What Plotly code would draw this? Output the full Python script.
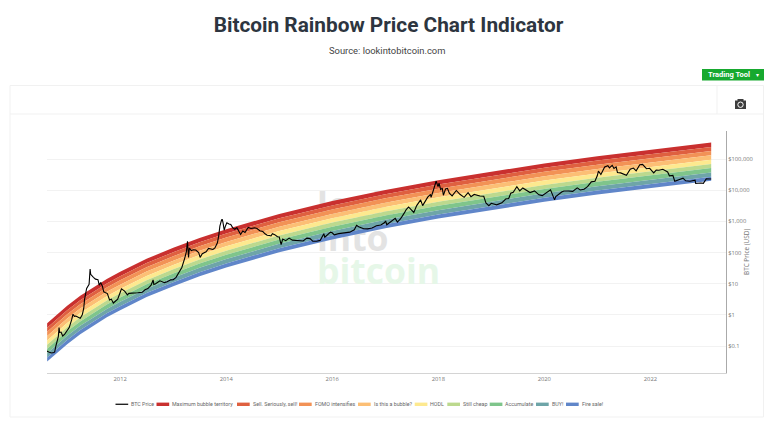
import plotly.graph_objects as go

W, H = 768, 437

TITLE = "Bitcoin Rainbow Price Chart Indicator"
SOURCE = "Source: lookintobitcoin.com"
BTC_NAME = "BTC Price"
Y_TITLE = "BTC Price (USD)"

band_dates = ["2010-08-16","2010-11-01","2011-01-01","2011-04-01","2011-07-01","2011-10-01","2012-01-01","2012-07-01",
              "2013-01-01","2013-07-01","2014-01-01","2014-07-01","2015-01-01","2016-01-01","2017-01-01","2018-01-01",
              "2019-01-01","2020-01-01","2021-01-01","2022-01-01","2023-01-01","2023-02-24"]

# log10(USD) of each band edge (top edge of the top band first)
edge_0 = [-0.27,0.06,0.29,0.61,0.89,1.15,1.38,1.80,2.15,2.47,2.75,3.00,3.24,3.65,4.01,4.32,4.60,4.86,5.09,5.30,5.50,5.53]
edge_1 = [-0.41,-0.08,0.15,0.47,0.75,1.01,1.24,1.66,2.01,2.33,2.61,2.86,3.10,3.51,3.87,4.18,4.46,4.72,4.95,5.16,5.36,5.39]
edge_2 = [-0.54,-0.21,0.02,0.34,0.62,0.88,1.11,1.53,1.88,2.20,2.48,2.73,2.97,3.38,3.74,4.05,4.33,4.59,4.82,5.03,5.23,5.26]
edge_3 = [-0.68,-0.35,-0.12,0.20,0.48,0.74,0.97,1.39,1.74,2.06,2.34,2.59,2.83,3.24,3.60,3.91,4.19,4.45,4.68,4.89,5.09,5.12]
edge_4 = [-0.82,-0.49,-0.26,0.06,0.34,0.60,0.83,1.25,1.60,1.92,2.20,2.45,2.69,3.10,3.46,3.77,4.05,4.31,4.54,4.75,4.95,4.98]
edge_5 = [-0.96,-0.63,-0.40,-0.08,0.20,0.46,0.69,1.11,1.46,1.78,2.06,2.31,2.55,2.96,3.32,3.63,3.91,4.17,4.40,4.61,4.81,4.84]
edge_6 = [-1.09,-0.76,-0.53,-0.21,0.07,0.33,0.56,0.98,1.33,1.65,1.93,2.18,2.42,2.83,3.19,3.50,3.78,4.04,4.27,4.48,4.68,4.71]
edge_7 = [-1.23,-0.90,-0.67,-0.35,-0.07,0.19,0.42,0.84,1.19,1.51,1.79,2.04,2.28,2.69,3.05,3.36,3.64,3.90,4.13,4.34,4.54,4.57]
edge_8 = [-1.37,-1.04,-0.81,-0.49,-0.21,0.05,0.28,0.70,1.05,1.37,1.65,1.90,2.14,2.55,2.91,3.22,3.50,3.76,3.99,4.20,4.40,4.43]
edge_9 = [-1.50,-1.17,-0.94,-0.62,-0.34,-0.08,0.15,0.57,0.92,1.24,1.52,1.77,2.01,2.42,2.78,3.09,3.37,3.63,3.86,4.07,4.27,4.30]

band_names = ["Maximum bubble territory","Sell. Seriously, sell!","FOMO intensifies","Is this a bubble?","HODL",
              "Still cheap","Accumulate","BUY!","Fire sale!"]
band_colors = ["#c9302f","#df6040","#f29256","#fcbf75","#fde98f","#bcd98e","#7fc58b","#6ea5a8","#6086c9"]

btc = [
("2010-08-16",.07),("2010-08-20",.066),("2010-09-01",.063),("2010-09-15",.06),("2010-10-01",.062),("2010-10-07",.065),
("2010-10-15",.1),("2010-10-25",.15),("2010-11-01",.2),("2010-11-06",.39),("2010-11-10",.27),("2010-11-20",.28),
("2010-12-01",.21),("2010-12-15",.24),("2011-01-01",.3),("2011-01-15",.39),("2011-02-01",.7),("2011-02-10",1.05),
("2011-02-20",.9),("2011-03-01",.92),("2011-03-15",.85),("2011-04-01",.78),("2011-04-15",1.0),("2011-04-25",1.6),
("2011-05-01",3.2),("2011-05-15",7),("2011-06-01",9.5),("2011-06-05",18),("2011-06-08",29.6),("2011-06-12",20),
("2011-06-20",17.5),("2011-07-01",16),("2011-07-15",14),("2011-08-01",13.5),("2011-08-10",9),("2011-08-20",11),
("2011-09-01",8.2),("2011-09-10",5.5),("2011-09-20",5.2),("2011-10-05",4.8),("2011-10-20",3),("2011-11-01",3.2),
("2011-11-15",2.4),("2011-12-01",2.9),("2011-12-15",3.2),("2012-01-01",5.2),("2012-01-10",6.8),("2012-02-01",5.8),
("2012-02-20",4.4),("2012-03-01",4.9),("2012-04-01",4.9),("2012-05-01",5.1),("2012-06-01",5.3),("2012-06-20",6.4),
("2012-07-10",7),("2012-08-01",9),("2012-08-15",13.2),("2012-08-20",9.5),("2012-09-01",10),("2012-10-01",12.4),
("2012-11-01",10.8),("2012-11-20",11.5),("2012-12-15",13.3),("2013-01-01",13.4),("2013-01-20",16),("2013-02-10",24),
("2013-03-01",33),("2013-03-20",64),("2013-04-01",104),("2013-04-09",230),("2013-04-12",90),("2013-04-16",70),
("2013-04-22",140),("2013-05-05",115),("2013-05-20",122),("2013-06-05",120),("2013-06-25",100),("2013-07-05",70),
("2013-07-20",92),("2013-08-15",105),("2013-09-01",135),("2013-10-01",125),("2013-10-15",140),("2013-11-01",205),
("2013-11-10",340),("2013-11-18",700),("2013-11-30",1120),("2013-12-05",1130),("2013-12-10",900),("2013-12-18",520),
("2013-12-25",680),("2014-01-05",900),("2014-01-20",820),("2014-02-01",800),("2014-02-15",620),("2014-03-01",560),
("2014-03-15",630),("2014-04-10",380),("2014-04-25",490),("2014-05-10",440),("2014-06-01",640),("2014-06-20",590),
("2014-07-15",620),("2014-08-01",590),("2014-08-20",500),("2014-09-10",470),("2014-09-25",400),("2014-10-10",360),
("2014-10-25",350),("2014-11-05",340),("2014-11-15",400),("2014-12-01",375),("2014-12-20",320),("2015-01-01",315),
("2015-01-14",180),("2015-01-25",270),("2015-02-15",240),("2015-03-10",290),("2015-04-01",250),("2015-05-15",237),
("2015-06-15",235),("2015-07-10",290),("2015-08-01",280),("2015-08-20",230),("2015-09-15",230),("2015-10-10",245),
("2015-11-04",400),("2015-11-11",310),("2015-12-01",365),("2015-12-20",450),("2016-01-01",430),("2016-01-15",370),
("2016-02-15",405),("2016-03-15",415),("2016-05-01",450),("2016-06-01",535),("2016-06-17",750),("2016-07-01",670),
("2016-08-05",580),("2016-09-01",575),("2016-10-01",615),("2016-11-01",720),("2016-12-01",760),("2016-12-25",900),
("2017-01-03",1030),("2017-01-11",780),("2017-02-15",1020),("2017-03-10",1250),("2017-03-25",950),("2017-04-15",1190),
("2017-05-10",1800),("2017-05-25",2400),("2017-06-10",2900),("2017-07-16",1930),("2017-08-05",3200),("2017-09-01",4900),
("2017-09-15",3200),("2017-10-01",4400),("2017-10-20",6000),("2017-11-08",7400),("2017-11-12",5900),("2017-11-28",10000),
("2017-12-08",16000),("2017-12-17",19500),("2017-12-30",13000),("2018-01-06",17000),("2018-01-17",10500),("2018-01-28",11700),
("2018-02-05",6900),("2018-02-20",11000),("2018-03-05",11500),("2018-03-18",8000),("2018-04-06",6600),("2018-05-05",9800),
("2018-05-30",7400),("2018-06-28",5900),("2018-07-25",8300),("2018-08-14",6200),("2018-09-05",7300),("2018-10-15",6500),
("2018-11-10",6400),("2018-11-25",3900),("2018-12-15",3200),("2019-01-01",3800),("2019-02-07",3400),("2019-03-15",3950),
("2019-04-10",5200),("2019-05-01",5400),("2019-05-15",8000),("2019-06-01",8600),("2019-06-26",12900),("2019-07-16",9500),
("2019-08-06",11800),("2019-09-01",9600),("2019-09-25",8400),("2019-10-26",9500),("2019-11-25",7100),("2019-12-18",6700),
("2020-01-20",8700),("2020-02-13",10300),("2020-03-12",4900),("2020-03-20",6200),("2020-04-30",8700),("2020-05-15",9400),
("2020-06-15",9400),("2020-07-15",9200),("2020-08-15",11900),("2020-09-05",10200),("2020-10-01",10700),("2020-10-25",13000),
("2020-11-20",18500),("2020-12-01",19000),("2020-12-15",19300),("2020-12-31",29000),("2021-01-08",41000),("2021-01-25",32000),
("2021-02-20",56000),("2021-03-14",61000),("2021-03-25",52000),("2021-04-13",63000),("2021-04-25",50000),("2021-05-10",56000),
("2021-05-19",37000),("2021-06-10",36000),("2021-07-20",30000),("2021-08-15",47000),("2021-09-06",51500),("2021-09-25",42000),
("2021-10-20",66000),("2021-11-08",67500),("2021-12-05",49000),("2021-12-27",50500),("2022-01-24",36000),("2022-02-10",44000),
("2022-03-01",43500),("2022-03-28",47000),("2022-04-30",38500),("2022-05-12",29000),("2022-06-05",30000),("2022-06-18",19500),
("2022-07-10",21000),("2022-08-14",24300),("2022-09-01",20000),("2022-10-01",19400),("2022-11-05",21000),("2022-11-09",16500),
("2022-12-15",17000),("2023-01-01",16600),("2023-01-21",23000),("2023-02-05",23000),("2023-02-24",22800),
]
btc_dates = [d for d, _ in btc]
btc_prices = [p for _, p in btc]

y_tickvals = [0.1, 1, 10, 100, 1000, 10000, 100000]
y_ticktext = ["$0.1", "$1", "$10", "$100", "$1,000", "$10,000", "$100,000"]

watermark_words = ["look", "into", "bitcoin"]
watermark_y = [2500, 216, 19]
watermark_colors = ["#e3e3e3", "#e3e3e3", "#e6f7e8"]

def px(x): return x / W
def py(y): return 1 - y / H

edges = [edge_0, edge_1, edge_2, edge_3, edge_4, edge_5, edge_6, edge_7, edge_8, edge_9]

fig = go.Figure()
fig.add_trace(go.Scatter(x=["2015-09-18"] * 3, y=watermark_y, mode="text", text=watermark_words,
                         textposition="middle right", showlegend=False, hoverinfo="skip",
                         textfont=dict(family="Open Sans", size=35.5, color=watermark_colors, weight="bold")))
fig.add_trace(go.Scatter(x=band_dates, y=[10 ** v for v in edge_0], mode="lines", line=dict(width=0),
                         showlegend=False, hoverinfo="skip"))
for i, (name, color) in enumerate(zip(band_names, band_colors)):
    fig.add_trace(go.Scatter(x=band_dates, y=[10 ** v for v in edges[i + 1]], mode="lines", name=name,
                             line=dict(width=0, color=color), fill="tonexty", fillcolor=color, showlegend=False))
fig.add_trace(go.Scatter(x=btc_dates, y=btc_prices, mode="lines", name=BTC_NAME,
                         line=dict(color="#000000", width=1.1), showlegend=False))

shapes = [
    dict(type="rect", xref="paper", yref="paper", x0=px(10), x1=px(763.5), y0=py(85.5), y1=py(417),
         line=dict(color="#f1f1f1", width=1), fillcolor="rgba(0,0,0,0)", layer="below"),
    dict(type="line", xref="paper", yref="paper", x0=px(10), x1=px(763.5), y0=py(114), y1=py(114),
         line=dict(color="#f1f1f1", width=1), layer="below"),
    dict(type="line", xref="paper", yref="paper", x0=px(717), x1=px(717), y0=py(85.5), y1=py(114),
         line=dict(color="#f1f1f1", width=1), layer="below"),
    dict(type="rect", xref="paper", yref="paper", x0=px(702), x1=px(764), y0=py(69), y1=py(80.5),
         line=dict(width=0), fillcolor="#17a92f"),
    dict(type="rect", xref="paper", yref="paper", x0=px(735), x1=px(746), y0=py(100.5), y1=py(109),
         line=dict(width=0), fillcolor="#3d3d3d"),
    dict(type="rect", xref="paper", yref="paper", x0=px(737.5), x1=px(743.5), y0=py(99), y1=py(101),
         line=dict(width=0), fillcolor="#3d3d3d"),
    dict(type="circle", xref="paper", yref="paper", x0=px(737.8), x1=px(743.2), y0=py(102), y1=py(107.4),
         line=dict(color="#ffffff", width=1), fillcolor="#3d3d3d"),
]

legend_swatch_x = [115.5, 156.5, 237, 299, 358, 414.7, 447.3, 489.7, 536, 566]
legend_labels = [BTC_NAME] + band_names
legend_colors = ["#222222"] + band_colors
legend_y = 404.3

def note(text, x, y, family, size, color, xanchor="center", angle=0):
    return dict(text=text, x=px(x), y=py(y), xref="paper", yref="paper", showarrow=False,
                xanchor=xanchor, yanchor="middle", textangle=angle,
                font=dict(family=family, size=size, color=color))

annotations = [
    note(SOURCE, 387, 50.5, "Roboto", 9.4, "#444444"),
    note("<b>Trading Tool</b>", 729, 74.7, "Roboto", 7.5, "#ffffff"),
    note("▾", 757.5, 74.7, "DejaVu Sans", 6, "#ffffff"),
    note(Y_TITLE, 746, 252, "Open Sans", 6.4, "#777777", angle=-90),
]
for sx, label, color in zip(legend_swatch_x, legend_labels, legend_colors):
    h = 0.7 if label == BTC_NAME else 1.7
    shapes.append(dict(type="rect", xref="paper", yref="paper", x0=px(sx), x1=px(sx + 12.7),
                       y0=py(legend_y - h), y1=py(legend_y + h), line=dict(width=0), fillcolor=color))
    annotations.append(note(label, sx + 13.5, legend_y, "Roboto", 5.3, "#666666", xanchor="left"))

fig.update_layout(
    width=W, height=H, margin=dict(l=0, r=0, t=0, b=0),
    paper_bgcolor="#ffffff", plot_bgcolor="#ffffff", showlegend=False,
    title=dict(text="<b>" + TITLE + "</b>", x=388.5 / W, xanchor="center", y=py(25), yanchor="middle",
               font=dict(family="Roboto", size=20.8, color="#2d3540")),
    xaxis=dict(type="date", domain=[px(47), px(726)], range=["2010-08-15", "2023-06-06"],
               dtick="M24", tick0="2012-01-01", tickformat="%Y", showgrid=False, zeroline=False,
               showline=True, linecolor="#d4d4d4", linewidth=1, ticks="",
               tickfont=dict(family="Open Sans", size=5.8, color="#777777")),
    yaxis=dict(type="log", domain=[py(373), py(131)], range=[-1.866, 5.9], side="right",
               tickmode="array", tickvals=y_tickvals, ticktext=y_ticktext,
               showgrid=True, gridcolor="#f2f2f2", gridwidth=1, zeroline=False,
               showline=True, linecolor="#aaaaaa", linewidth=1, ticks="",
               tickfont=dict(family="Open Sans", size=5.8, color="#777777")),
    shapes=shapes, annotations=annotations,
)

fig.write_html("out.html", config=dict(displayModeBar=False),
               post_script="document.body.style.margin='0';document.body.style.overflow='hidden';")
